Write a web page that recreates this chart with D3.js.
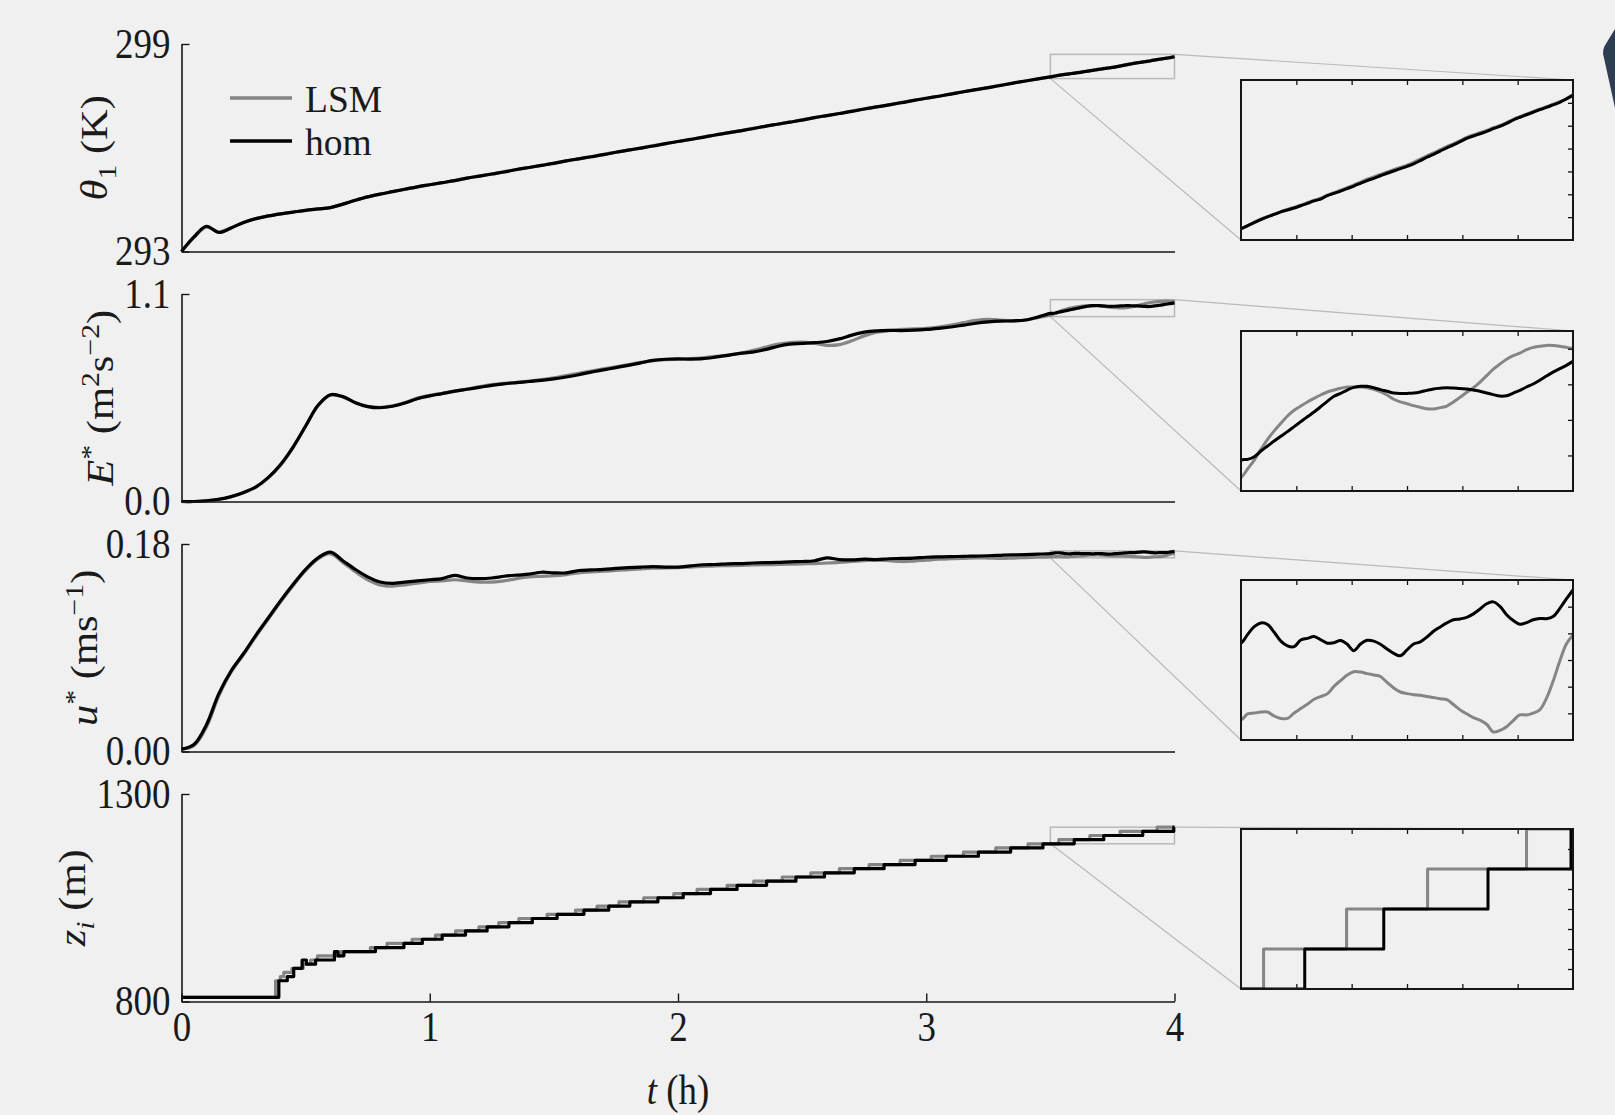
<!DOCTYPE html>
<html lang="en">
<head>
<meta charset="UTF-8">
<title>LSM vs hom</title>
<script src="https://unpkg.com/d3@7.8.0/dist/d3.min.js"></script>
<style>
  body { margin: 0; background: #f0f0f0; }
  svg { display: block; }
  text { font-family: 'Liberation Serif', 'Times New Roman', serif; fill: #1a1a1a; }
</style>
</head>
<body>
<script>
// sample times (h): coarse up to 3.45 h, fine inside the zoom window 3.5-4 h
const tCoarse = d3.range(70).map(i => +(i * 0.05).toFixed(2));
const tFine = d3.range(51).map(i => +(3.5 + i * 0.01).toFixed(2));
const tAll = tCoarse.concat(tFine);

// theta_1 (K)
const thetaHomCoarse = [
  293.00, 293.42, 293.73, 293.55, 293.68, 293.84, 293.95, 294.03, 294.09, 294.14,
  294.19, 294.23, 294.27, 294.37, 294.48, 294.58, 294.66, 294.73, 294.80, 294.87,
  294.93, 294.99, 295.05, 295.12, 295.18, 295.24, 295.30, 295.37, 295.43, 295.49,
  295.55, 295.62, 295.68, 295.74, 295.80, 295.87, 295.93, 295.99, 296.05, 296.12,
  296.18, 296.24, 296.30, 296.37, 296.43, 296.49, 296.55, 296.62, 296.68, 296.74,
  296.80, 296.87, 296.93, 296.99, 297.05, 297.12, 297.18, 297.24, 297.30, 297.37,
  297.43, 297.49, 297.55, 297.62, 297.68, 297.74, 297.80, 297.87, 297.93, 297.99];
const thetaHomFine = [
  298.050, 298.063, 298.076, 298.089, 298.101, 298.112, 298.123, 298.131, 298.140, 298.150,
  298.160, 298.171, 298.179, 298.194, 298.204, 298.214, 298.225, 298.236, 298.248, 298.260,
  298.270, 298.281, 298.292, 298.302, 298.312, 298.322, 298.333, 298.347, 298.362, 298.375,
  298.389, 298.403, 298.416, 298.430, 298.445, 298.455, 298.465, 298.475, 298.487, 298.497,
  298.510, 298.525, 298.537, 298.548, 298.559, 298.570, 298.580, 298.591, 298.602, 298.617,
  298.633];
const thetaLsmCoarse = [
  293.00, 293.40, 293.70, 293.57, 293.69, 293.84, 293.95, 294.03, 294.09, 294.14,
  294.19, 294.23, 294.27, 294.37, 294.48, 294.58, 294.66, 294.73, 294.80, 294.87,
  294.93, 294.99, 295.05, 295.12, 295.18, 295.24, 295.31, 295.37, 295.43, 295.49,
  295.56, 295.62, 295.68, 295.74, 295.81, 295.87, 295.93, 295.99, 296.06, 296.12,
  296.18, 296.24, 296.31, 296.37, 296.43, 296.49, 296.56, 296.62, 296.68, 296.74,
  296.81, 296.87, 296.93, 296.99, 297.06, 297.12, 297.18, 297.24, 297.31, 297.37,
  297.43, 297.49, 297.56, 297.62, 297.68, 297.74, 297.81, 297.87, 297.93, 297.99];
const thetaLsmFine = [
  298.048, 298.062, 298.078, 298.092, 298.103, 298.113, 298.124, 298.134, 298.143, 298.152,
  298.163, 298.174, 298.183, 298.196, 298.207, 298.218, 298.229, 298.241, 298.253, 298.266,
  298.276, 298.287, 298.298, 298.308, 298.318, 298.328, 298.340, 298.354, 298.368, 298.381,
  298.395, 298.409, 298.421, 298.435, 298.449, 298.460, 298.470, 298.480, 298.491, 298.501,
  298.514, 298.528, 298.540, 298.551, 298.562, 298.573, 298.583, 298.594, 298.605, 298.619,
  298.636];

// E* (m2 s-2)
const eHomCoarse = [
  0.000, 0.000, 0.004, 0.012, 0.026, 0.048, 0.078, 0.128, 0.198, 0.290,
  0.400, 0.510, 0.566, 0.556, 0.524, 0.503, 0.497, 0.505, 0.522, 0.545,
  0.560, 0.572, 0.585, 0.595, 0.605, 0.616, 0.624, 0.630, 0.636, 0.642,
  0.650, 0.660, 0.672, 0.686, 0.698, 0.710, 0.722, 0.735, 0.748, 0.754,
  0.756, 0.755, 0.757, 0.765, 0.775, 0.785, 0.792, 0.805, 0.822, 0.834,
  0.838, 0.842, 0.848, 0.862, 0.882, 0.898, 0.905, 0.907, 0.906, 0.908,
  0.912, 0.918, 0.925, 0.935, 0.945, 0.952, 0.956, 0.958, 0.962, 0.978];
const eHomFine = [
  0.9973, 0.9978, 0.9993, 1.0025, 1.0053, 1.0081, 1.0108, 1.0134, 1.0162, 1.0190,
  1.0218, 1.0244, 1.0274, 1.0304, 1.0333, 1.0349, 1.0368, 1.0383, 1.0389, 1.0389,
  1.0381, 1.0370, 1.0361, 1.0351, 1.0348, 1.0349, 1.0351, 1.0357, 1.0366, 1.0374,
  1.0378, 1.0381, 1.0379, 1.0376, 1.0374, 1.0368, 1.0361, 1.0351, 1.0342, 1.0334,
  1.0336, 1.0351, 1.0366, 1.0385, 1.0402, 1.0423, 1.0447, 1.0469, 1.0488, 1.0507,
  1.0529];
const eLsmCoarse = [
  0.000, 0.000, 0.003, 0.011, 0.025, 0.046, 0.076, 0.125, 0.194, 0.287,
  0.398, 0.508, 0.564, 0.555, 0.525, 0.505, 0.499, 0.507, 0.525, 0.548,
  0.563, 0.574, 0.584, 0.596, 0.609, 0.620, 0.627, 0.632, 0.638, 0.646,
  0.656, 0.668, 0.680, 0.692, 0.703, 0.714, 0.726, 0.738, 0.747, 0.752,
  0.754, 0.757, 0.762, 0.769, 0.776, 0.786, 0.800, 0.817, 0.833, 0.843,
  0.845, 0.838, 0.828, 0.832, 0.852, 0.878, 0.897, 0.906, 0.912, 0.915,
  0.918, 0.925, 0.935, 0.948, 0.960, 0.966, 0.962, 0.957, 0.962, 0.975];
const eLsmFine = [
  0.9875, 0.9924, 0.9974, 1.0034, 1.0091, 1.0138, 1.0181, 1.0222, 1.0254, 1.0278,
  1.0301, 1.0321, 1.0340, 1.0357, 1.0368, 1.0378, 1.0385, 1.0385, 1.0385, 1.0381,
  1.0372, 1.0359, 1.0340, 1.0316, 1.0301, 1.0291, 1.0280, 1.0271, 1.0263, 1.0261,
  1.0269, 1.0278, 1.0301, 1.0327, 1.0355, 1.0381, 1.0413, 1.0449, 1.0486, 1.0514,
  1.0541, 1.0561, 1.0576, 1.0595, 1.0608, 1.0614, 1.0619, 1.0618, 1.0614, 1.0608,
  1.0601];

// u* (m s-1)
const uHomCoarse = [
  0.002, 0.006, 0.023, 0.050, 0.070, 0.085, 0.101, 0.116, 0.131, 0.145,
  0.158, 0.168, 0.173, 0.1655, 0.158, 0.1515, 0.147, 0.1458, 0.147, 0.148,
  0.149, 0.150, 0.1528, 0.1505, 0.150, 0.1505, 0.152, 0.153, 0.1538, 0.1555,
  0.155, 0.155, 0.157, 0.1575, 0.158, 0.1588, 0.1595, 0.160, 0.1603, 0.160,
  0.160, 0.161, 0.162, 0.1622, 0.1628, 0.163, 0.1635, 0.1638, 0.164, 0.1645,
  0.1648, 0.1655, 0.168, 0.1665, 0.1662, 0.1668, 0.1665, 0.1672, 0.1675, 0.1678,
  0.1685, 0.1688, 0.169, 0.1693, 0.1695, 0.1698, 0.1702, 0.1705, 0.1708, 0.1712];
const uHomFine = [
  0.17163, 0.17196, 0.17225, 0.17239, 0.17233, 0.17204, 0.17171, 0.17153, 0.17150, 0.17175,
  0.17181, 0.17188, 0.17176, 0.17163, 0.17165, 0.17173, 0.17159, 0.17135, 0.17160, 0.17174,
  0.17171, 0.17159, 0.17141, 0.17125, 0.17116, 0.17138, 0.17160, 0.17168, 0.17186, 0.17208,
  0.17224, 0.17239, 0.17251, 0.17254, 0.17260, 0.17273, 0.17291, 0.17311, 0.17318, 0.17301,
  0.17270, 0.17248, 0.17234, 0.17240, 0.17251, 0.17256, 0.17255, 0.17263, 0.17293, 0.17329,
  0.17363];
const uLsmCoarse = [
  0.002, 0.005, 0.021, 0.048, 0.069, 0.084, 0.100, 0.115, 0.130, 0.144,
  0.157, 0.167, 0.1715, 0.164, 0.156, 0.149, 0.1445, 0.1435, 0.1445, 0.146,
  0.1475, 0.148, 0.149, 0.148, 0.147, 0.147, 0.148, 0.150, 0.1515, 0.152,
  0.1525, 0.1535, 0.155, 0.1558, 0.1565, 0.157, 0.1578, 0.1585, 0.159, 0.1592,
  0.1595, 0.160, 0.1605, 0.161, 0.1612, 0.1615, 0.1618, 0.162, 0.1622, 0.1625,
  0.1628, 0.163, 0.1635, 0.164, 0.1648, 0.1655, 0.166, 0.1655, 0.1648, 0.1652,
  0.166, 0.1668, 0.1672, 0.1675, 0.168, 0.1678, 0.1675, 0.1678, 0.1682, 0.1685];
const uLsmFine = [
  0.16875, 0.16898, 0.16901, 0.16905, 0.16905, 0.16890, 0.16881, 0.16881, 0.16901, 0.16918,
  0.16934, 0.16953, 0.16963, 0.16973, 0.17001, 0.17023, 0.17044, 0.17056, 0.17055, 0.17049,
  0.17044, 0.17038, 0.17016, 0.16995, 0.16980, 0.16974, 0.16970, 0.16968, 0.16963, 0.16959,
  0.16955, 0.16951, 0.16933, 0.16913, 0.16898, 0.16884, 0.16874, 0.16859, 0.16830, 0.16836,
  0.16850, 0.16873, 0.16894, 0.16894, 0.16901, 0.16913, 0.16956, 0.17020, 0.17095, 0.17160,
  0.17194];

// z_i (m): step changes (time of change, new level)
const ziHomT = [0, 0.392, 0.426, 0.452, 0.486, 0.503, 0.540, 0.616, 0.630, 0.654,
  0.781, 0.896, 0.970, 1.050, 1.144, 1.231, 1.319, 1.413, 1.513, 1.621, 1.721, 1.806,
  1.919, 2.021, 2.131, 2.238, 2.357, 2.475, 2.590, 2.710, 2.830, 2.955, 3.080, 3.210,
  3.340, 3.470, 3.596, 3.715, 3.872, 3.997, 4.0];
const ziHomZ = [810, 850, 860, 880, 900, 890, 900, 920, 910, 920,
  930, 940, 950, 960, 970, 980, 990, 1000, 1010, 1020, 1030, 1040,
  1050, 1060, 1070, 1080, 1090, 1100, 1110, 1120, 1130, 1140, 1150, 1160,
  1170, 1180, 1190, 1200, 1210, 1220, 1220];
const ziLsmT = [0, 0.379, 0.398, 0.412, 0.445, 0.490, 0.520, 0.548, 0.640, 0.761,
  0.828, 0.929, 1.023, 1.104, 1.198, 1.278, 1.359, 1.473, 1.587, 1.674, 1.762, 1.862,
  1.983, 2.077, 2.198, 2.305, 2.420, 2.535, 2.650, 2.770, 2.895, 3.020, 3.150, 3.280,
  3.410, 3.534, 3.659, 3.781, 3.930, 4.0];
const ziLsmZ = [810, 850, 860, 870, 880, 890, 900, 910, 920, 930,
  940, 950, 960, 970, 980, 990, 1000, 1010, 1020, 1030, 1040, 1050,
  1060, 1070, 1080, 1090, 1100, 1110, 1120, 1130, 1140, 1150, 1160, 1170,
  1180, 1190, 1200, 1210, 1220, 1220];

const xTickValues = [0, 1, 2, 3, 4];
const insetTickValues = [3.5 + 0.5 / 6, 3.5 + 1 / 6, 3.75, 3.5 + 2 / 6, 3.5 + 2.5 / 6];

const zip = (ts, vs) => ts.map((t, j) => [t, vs[j]]);

const panels = [
  {
    lsm: zip(tAll, thetaLsmCoarse.concat(thetaLsmFine)),
    hom: zip(tAll, thetaHomCoarse.concat(thetaHomFine)),
    domain: [293, 299], fmt: d3.format('d'),
    zoom: [298.0, 298.7], zoomTicks: [298.1, 298.2, 298.3, 298.4, 298.5, 298.6],
    labelX: 107,
    label: [{ t: 'θ', i: true }, { t: '1', sub: true }, { t: ' (K)' }]
  },
  {
    lsm: zip(tAll, eLsmCoarse.concat(eLsmFine)),
    hom: zip(tAll, eHomCoarse.concat(eHomFine)),
    domain: [0, 1.1], fmt: d3.format('.1f'),
    zoom: [0.98, 1.07], zoomTicks: [1.00, 1.02, 1.04, 1.06],
    labelX: 113,
    label: [{ t: 'E', i: true }, { t: '*', sup: true }, { t: ' (m' }, { t: '2', sup: true },
            { t: 's' }, { t: '−2', sup: true }, { t: ')' }]
  },
  {
    lsm: zip(tAll, uLsmCoarse.concat(uLsmFine)),
    hom: zip(tAll, uHomCoarse.concat(uHomFine)),
    domain: [0, 0.18], fmt: d3.format('.2f'),
    zoom: [0.168, 0.174], zoomTicks: [0.169, 0.170, 0.171, 0.172, 0.173],
    labelX: 97,
    label: [{ t: 'u', i: true }, { t: '*', sup: true }, { t: ' (ms' }, { t: '−1', sup: true }, { t: ')' }]
  },
  {
    step: true,
    lsm: zip(ziLsmT, ziLsmZ),
    hom: zip(ziHomT, ziHomZ),
    domain: [800, 1300], fmt: d3.format('d'),
    zoom: [1180, 1220], zoomTicks: [1185, 1190, 1195, 1200, 1205, 1210, 1215],
    labelX: 85,
    label: [{ t: 'z', i: true }, { t: 'i', i: true, sub: true }, { t: ' (m)' }]
  }
];

const W = 1615, H = 1115;
const GREY = '#858585';
const INK = '#151515';
const FONT = 37;
const panelTop = [44, 294, 544, 794], panelH = 207.5;
const inset = { left: 1241, right: 1573, h: 160, top: [80, 331, 580, 829] };

const svg = d3.select('body').append('svg').attr('width', W).attr('height', H);
svg.append('rect').attr('width', W).attr('height', H).attr('fill', '#f0f0f0');

const x = d3.scaleLinear().domain([0, 4]).range([181.5, 1174.5]);

// writes rich text (italic, sub/superscripts) as tspans
function richText(sel, parts) {
  let shift = 0;
  parts.forEach(p => {
    const target = p.sub ? 9 : p.sup ? -14 : 0;
    const ts = sel.append('tspan').text(p.t).attr('dy', target - shift);
    if (p.i) ts.style('font-style', 'italic');
    if (p.sub || p.sup) ts.style('font-size', (FONT * 0.7) + 'px');
    shift = target;
  });
}

function styleAxis(g) {
  g.select('.domain').attr('stroke', INK).attr('stroke-width', 1.6);
  g.selectAll('.tick line').attr('stroke', INK).attr('stroke-width', 1.4);
  g.selectAll('.tick text').style('font-size', FONT + 'px').attr('fill', INK)
    .attr('transform', 'scale(1,1.12)');
}

panels.forEach((p, i) => {
  const top = panelTop[i], bottom = top + panelH;
  const y = d3.scaleLinear().domain(p.domain).range([bottom, top]);
  const g = svg.append('g');

  // zoom window and connectors
  const zx0 = x(3.5), zx1 = x(4), zy0 = y(p.zoom[0]), zy1 = y(p.zoom[1]);
  const it = inset.top[i], ib = it + inset.h;
  g.append('rect')
    .attr('x', zx0).attr('y', zy1).attr('width', zx1 - zx0).attr('height', zy0 - zy1)
    .attr('fill', 'none').attr('stroke', '#b9b9b9').attr('stroke-width', 1.5);
  g.append('line').attr('x1', zx1).attr('y1', zy1).attr('x2', inset.right).attr('y2', it)
    .attr('stroke', '#b9b9b9').attr('stroke-width', 1.2);
  g.append('line').attr('x1', zx0).attr('y1', zy0).attr('x2', inset.left).attr('y2', ib)
    .attr('stroke', '#b9b9b9').attr('stroke-width', 1.2);

  // main lines
  const curve = p.step ? d3.curveStepAfter : d3.curveCatmullRom.alpha(0.5);
  const line = d3.line().curve(curve).x(d => x(d[0])).y(d => y(d[1]));
  [[p.lsm, GREY], [p.hom, '#000']].forEach(([data, c]) => {
    g.append('path').datum(data).attr('d', line)
      .attr('fill', 'none').attr('stroke', c).attr('stroke-width', 3.2)
      .attr('stroke-linejoin', 'round');
  });

  // axes
  const yg = g.append('g').attr('transform', `translate(${x(0)},0)`)
    .call(d3.axisLeft(y).tickValues(p.domain).tickSize(-8).tickSizeOuter(0)
      .tickPadding(11).tickFormat(p.fmt));
  styleAxis(yg);
  const last = i === panels.length - 1;
  const xg = g.append('g').attr('transform', `translate(0,${bottom})`)
    .call(d3.axisBottom(x).tickValues(last ? xTickValues : []).tickSize(-8)
      .tickSizeOuter(0).tickPadding(9).tickFormat(d3.format('d')));
  styleAxis(xg);

  // y label
  const lab = svg.append('text')
    .attr('transform', `translate(${p.labelX},${(top + bottom) / 2}) rotate(-90) scale(1.15,1)`)
    .attr('text-anchor', 'middle').style('font-size', FONT + 'px').attr('fill', INK);
  richText(lab, p.label);

  // inset
  const xi = d3.scaleLinear().domain([3.5, 4]).range([inset.left, inset.right]);
  const yi = d3.scaleLinear().domain(p.zoom).range([ib, it]);
  const clipId = 'clip' + i;
  svg.append('clipPath').attr('id', clipId).append('rect')
    .attr('x', inset.left).attr('y', it).attr('width', inset.right - inset.left).attr('height', inset.h);
  const gi = svg.append('g');
  const lineI = d3.line().curve(curve).x(d => xi(d[0])).y(d => yi(d[1]));
  [[p.lsm, GREY], [p.hom, '#000']].forEach(([data, c]) => {
    gi.append('path').datum(data).attr('d', lineI).attr('clip-path', `url(#${clipId})`)
      .attr('fill', 'none').attr('stroke', c).attr('stroke-width', 3)
      .attr('stroke-linejoin', 'round');
  });
  const tickAxis = (axis, tx, ty) => {
    const a = gi.append('g').attr('transform', `translate(${tx},${ty})`)
      .call(axis.tickSize(-5).tickSizeOuter(0).tickFormat(''));
    a.select('.domain').remove();
    a.selectAll('.tick line').attr('stroke', INK).attr('stroke-width', 1.3);
  };
  tickAxis(d3.axisTop(xi).tickValues(insetTickValues), 0, it);
  tickAxis(d3.axisBottom(xi).tickValues(insetTickValues), 0, ib);
  tickAxis(d3.axisRight(yi).tickValues(p.zoomTicks), inset.right, 0);
  gi.append('rect')
    .attr('x', inset.left).attr('y', it).attr('width', inset.right - inset.left).attr('height', inset.h)
    .attr('fill', 'none').attr('stroke', INK).attr('stroke-width', 2);
});

// x label
const xl = svg.append('text').attr('transform', 'translate(678,1104) scale(1,1.15)')
  .attr('text-anchor', 'middle').style('font-size', FONT + 'px').attr('fill', INK);
richText(xl, [{ t: 't', i: true }, { t: ' (h)' }]);

// legend
const legend = [{ name: 'LSM', color: GREY, y: 98 }, { name: 'hom', color: '#000', y: 141 }];
legend.forEach(d => {
  svg.append('line').attr('x1', 230).attr('x2', 292).attr('y1', d.y).attr('y2', d.y)
    .attr('stroke', d.color).attr('stroke-width', 3.4);
  svg.append('text').attr('x', 305).attr('y', d.y + 14)
    .style('font-size', '37.5px').attr('fill', INK).text(d.name);
});

// page widget peeking in at the top right corner
svg.append('path')
  .attr('d', 'M1615,29 L1607,42 Q1601,50 1604,58 L1615,108 Z')
  .attr('fill', '#2f3d52');
</script>
</body>
</html>
